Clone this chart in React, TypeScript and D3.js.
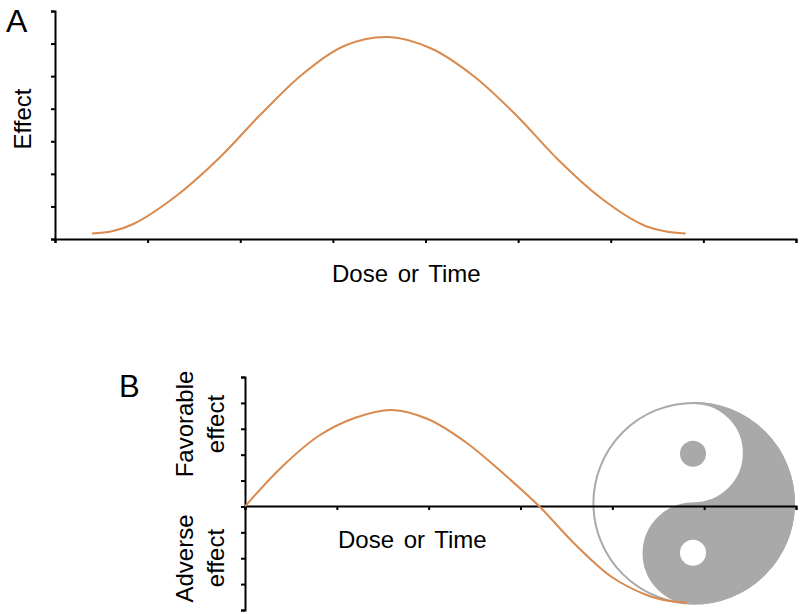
import * as d3 from "d3";
import { useEffect, useRef } from "react";

// Panel A curve (axis units)
const doseA = [0.399, 0.615, 0.857, 1.315, 1.773, 2.23, 2.688, 3.146, 3.604, 4.062, 4.519, 4.977, 5.435, 5.893, 6.35, 6.586, 6.808];
const effectA = [0.172, 0.236, 0.476, 1.336, 2.487, 3.853, 5.097, 5.956, 6.202, 5.849, 5.004, 3.807, 2.425, 1.259, 0.43, 0.239, 0.172];

// Panel B curve
const doseB = [0, 0.4, 0.8, 1.201, 1.601, 2.001, 2.401, 2.801, 3.201, 3.602, 4.002, 4.402, 4.606, 4.813];
const effectB = [0, 1.523, 2.721, 3.428, 3.725, 3.358, 2.489, 1.311, 0.017, -1.489, -2.745, -3.459, -3.641, -3.718];

const xTicksA = d3.range(0, 9);
const yTicksA = d3.range(0, 8);
const xTicksB = d3.range(0, 7);
const yTicksB = d3.range(-4, 6);

const CURVE = "#d98a4e";
const GREY = "#a9a9a9";
const FONT = "'Liberation Sans', Arial, sans-serif";

const App = () => {
    const svgRef = useRef<SVGSVGElement | null>(null);

    useEffect(() => {
        const svg = d3.select(svgRef.current);
        svg.selectAll("*").remove();

        const xA = d3.scaleLinear().domain([0, 8]).range([55, 796]);
        const yA = d3.scaleLinear().domain([0, 7]).range([239, 11]);
        const xB = d3.scaleLinear().domain([0, 6]).range([245, 796]);
        const yB = d3.scaleLinear().domain([-4, 5]).range([610, 377]);

        // ** Yin yang sits under the axis of panel B **
        const cx = 693.7, cy = 503.2, r = 100.3;
        const yy = svg.append("g");
        yy.append("circle")
            .attr("cx", cx).attr("cy", cy).attr("r", r)
            .attr("fill", "#fff").attr("stroke", GREY).attr("stroke-width", 2);
        const dark = d3.path();
        dark.moveTo(cx, cy - r);
        dark.arc(cx, cy, r, -Math.PI / 2, Math.PI / 2, false);
        dark.arc(cx, cy + r / 2, r / 2, Math.PI / 2, -Math.PI / 2, false);
        dark.arc(cx, cy - r / 2, r / 2, Math.PI / 2, -Math.PI / 2, true);
        dark.closePath();
        yy.append("path").attr("d", dark.toString()).attr("fill", GREY).attr("stroke", GREY).attr("stroke-width", 2);
        yy.append("circle").attr("cx", cx - 0.7).attr("cy", cy - 49.5).attr("r", 13).attr("fill", GREY);
        yy.append("circle").attr("cx", cx - 0.7).attr("cy", cy + 49.5).attr("r", 13).attr("fill", "#fff");

        // ** Axes **
        const styleAxis = (g: d3.Selection<SVGGElement, unknown, null, undefined>) => {
            g.selectAll("path").attr("stroke", "#000").attr("stroke-width", 2);
            g.selectAll("line").attr("stroke", "#000").attr("stroke-width", 2);
        };
        svg.append("g")
            .attr("transform", `translate(0,${yA(0)})`)
            .call(d3.axisBottom(xA).tickValues(xTicksA).tickSize(4).tickFormat(() => ""))
            .call(styleAxis);
        svg.append("g")
            .attr("transform", `translate(${xA(0)},0)`)
            .call(d3.axisLeft(yA).tickValues(yTicksA).tickSize(4).tickFormat(() => ""))
            .call(styleAxis);
        svg.append("g")
            .attr("transform", `translate(0,${Math.round(yB(0))})`)
            .call(d3.axisBottom(xB).tickValues(xTicksB).tickSize(4).tickFormat(() => ""))
            .call(styleAxis);
        svg.append("g")
            .attr("transform", `translate(${xB(0)},0)`)
            .call(d3.axisLeft(yB).tickValues(yTicksB).tickSize(4).tickFormat(() => ""))
            .call(styleAxis);

        // ** Curves **
        const lineA = d3.line<number>()
            .x(d => xA(doseA[d]))
            .y(d => yA(effectA[d]))
            .curve(d3.curveCatmullRom.alpha(0.5));
        const lineB = d3.line<number>()
            .x(d => xB(doseB[d]))
            .y(d => yB(effectB[d]))
            .curve(d3.curveCatmullRom.alpha(0.5));
        svg.append("path")
            .attr("d", lineA(d3.range(doseA.length)))
            .attr("fill", "none").attr("stroke", CURVE).attr("stroke-width", 2);
        svg.append("path")
            .attr("d", lineB(d3.range(doseB.length)))
            .attr("fill", "none").attr("stroke", CURVE).attr("stroke-width", 2);

        // ** Labels **
        const label = (text: string, x: number, y: number, size: number, anchor = "start", rotate = false) => {
            svg.append("text")
                .attr("transform", rotate ? `translate(${x},${y}) rotate(-90)` : `translate(${x},${y})`)
                .attr("text-anchor", anchor)
                .attr("font-family", FONT)
                .attr("font-size", size)
                .attr("word-spacing", 3)
                .attr("fill", "#000")
                .text(text);
        };
        label("A", 6, 32, 32);
        label("B", 119, 397, 31);
        label("Dose or Time", 332, 282, 24);
        label("Dose or Time", 338, 548, 24);
        label("Effect", 31, 119, 24, "middle", true);
        label("Favorable", 193, 424, 24, "middle", true);
        label("effect", 224, 424, 24, "middle", true);
        label("Adverse", 193, 558.5, 24, "middle", true);
        label("effect", 224, 558, 24, "middle", true);
    }, []);

    return (
        <svg
            ref={svgRef}
            width={800}
            height={614}
            style={{ position: "absolute", left: 0, top: 0, background: "#fff" }}
        />
    );
};

export default App;
